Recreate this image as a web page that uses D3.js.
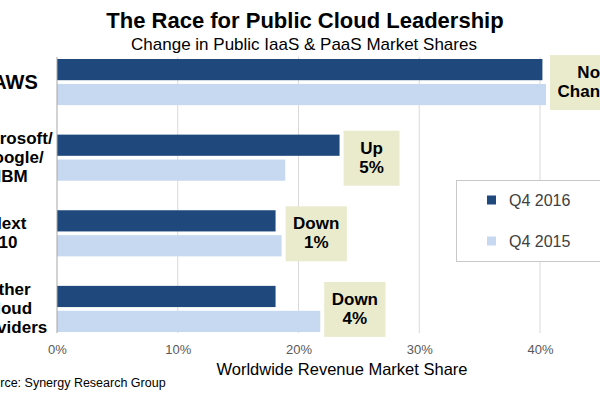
<!DOCTYPE html>
<html>
<head>
<meta charset="utf-8">
<script src="https://cdn.jsdelivr.net/npm/d3@7"></script>
<style>
  html, body { margin: 0; padding: 0; background: #fff; overflow: hidden; }
  svg { display: block; font-family: "Liberation Sans", Arial, sans-serif; }
</style>
</head>
<body>
<svg id="chart" width="600" height="400"></svg>
<script>
// ---- data ----
const categories = ["AWS", "Microsoft/Google/IBM", "Next 10", "Other Cloud Providers"];
const categoryLines = [["AWS"], ["Microsoft/", "Google/", "IBM"], ["Next", "10"], ["Other", "Cloud", "Providers"]];
const seriesNames = ["Q4 2016", "Q4 2015"];
const q42016 = [40.2, 23.4, 18.1, 18.1];
const q42015 = [40.5, 18.9, 18.6, 21.8];
const changeLabels = [["No", "Change"], ["Up", "5%"], ["Down", "1%"], ["Down", "4%"]];
const xTicks = [0, 10, 20, 30, 40];
const titleText = "The Race for Public Cloud Leadership";
const subtitleText = "Change in Public IaaS & PaaS Market Shares";
const xAxisTitle = "Worldwide Revenue Market Share";
const sourceText = "Source: Synergy Research Group";

const colors = { "Q4 2016": "#1F497D", "Q4 2015": "#C6D9F1" };
const boxFill = "#EAEBCD";

const svg = d3.select("#chart");

const x = d3.scaleLinear().domain([0, 40]).range([57, 540]);
const y = d3.scaleBand().domain(categories).range([59, 332]).paddingInner(0.39).paddingOuter(0);
const ySub = d3.scaleBand().domain(seriesNames).range([0, y.bandwidth()]).paddingInner(0.15);

const plotTop = 57, plotBottom = 333;

// gridlines
svg.append("g").selectAll("line")
  .data(xTicks.filter(d => d > 0))
  .join("line")
  .attr("x1", d => x(d)).attr("x2", d => x(d))
  .attr("y1", plotTop).attr("y2", plotBottom)
  .attr("stroke", "#d9d9d9").attr("stroke-width", 1);

// x axis tick labels (via d3 axis, no domain line)
const xAxis = d3.axisBottom(x).tickValues(xTicks).tickFormat(d => d + "%").tickSize(0).tickPadding(0);
const gx = svg.append("g").attr("transform", `translate(0,${345})`).call(xAxis);
gx.select(".domain").remove();
gx.selectAll("text")
  .attr("font-size", "13px").attr("fill", "#595959")
  .attr("font-family", "Liberation Sans, Arial, sans-serif")
  .attr("dy", "0.71em");

// bars
const rows = categories.map((c, i) => ({ cat: c, vals: [q42016[i], q42015[i]] }));
const groups = svg.append("g").selectAll("g")
  .data(rows).join("g")
  .attr("transform", d => `translate(0,${y(d.cat)})`);
groups.selectAll("rect")
  .data(d => seriesNames.map((s, j) => ({ s, v: d.vals[j] })))
  .join("rect")
  .attr("x", x(0))
  .attr("y", d => ySub(d.s))
  .attr("width", d => x(d.v) - x(0))
  .attr("height", ySub.bandwidth())
  .attr("fill", d => colors[d.s]);

// left axis line
svg.append("line")
  .attr("x1", x(0)).attr("x2", x(0))
  .attr("y1", plotTop).attr("y2", plotBottom)
  .attr("stroke", "#a6a6a6").attr("stroke-width", 1);

// category labels
const catG = svg.append("g");
categories.forEach((c, i) => {
  const lines = categoryLines[i];
  const cy = y(c) + y.bandwidth() / 2;
  const lh = 19;
  const fs = lines.length === 1 ? 20 : 17;
  const cx = lines.length === 1 ? 15 : (lines.length === 3 && i === 1 ? 12 : 8);
  lines.forEach((t, k) => {
    catG.append("text")
      .attr("x", cx)
      .attr("y", cy + (k - (lines.length - 1) / 2) * lh)
      .attr("text-anchor", "middle")
      .attr("dominant-baseline", "central")
      .attr("font-size", fs + "px")
      .attr("font-weight", "bold")
      .attr("fill", "#000")
      .text(t);
  });
});

// change annotation boxes
const annG = svg.append("g");
rows.forEach((r, i) => {
  const lines = changeLabels[i];
  const maxV = d3.max(r.vals);
  const bx = x(maxV) + 4;
  const cy = y(r.cat) + y.bandwidth() / 2;
  const g = annG.append("g");
  const texts = lines.map((t, k) => g.append("text")
    .attr("y", cy + (k - 0.5) * 19)
    .attr("text-anchor", "middle")
    .attr("dominant-baseline", "central")
    .attr("font-size", "17px")
    .attr("font-weight", "bold")
    .attr("fill", "#000")
    .text(t));
  const tw = d3.max(texts, t => t.node().getComputedTextLength());
  const bw = Math.max(56, tw + 15);
  g.insert("rect", "text")
    .attr("x", bx).attr("y", cy - 27)
    .attr("width", bw).attr("height", 55)
    .attr("fill", boxFill);
  texts.forEach(t => t.attr("x", bx + bw / 2));
});

// legend
const lg = svg.append("g");
lg.append("rect")
  .attr("x", 456.5).attr("y", 180.5).attr("width", 170).attr("height", 81)
  .attr("fill", "#fff").attr("stroke", "#c8c8c8").attr("stroke-width", 1);
seriesNames.forEach((s, k) => {
  const cy = 200 + k * 41;
  lg.append("rect").attr("x", 487).attr("y", cy - 4.5).attr("width", 9).attr("height", 9).attr("fill", colors[s]);
  lg.append("text").attr("x", 509).attr("y", cy)
    .attr("dominant-baseline", "central")
    .attr("font-size", "16px").attr("fill", "#404040").text(s);
});

// titles
svg.append("text").attr("x", 305).attr("y", 28).attr("text-anchor", "middle")
  .attr("font-size", "22px").attr("font-weight", "bold").attr("fill", "#000").text(titleText);
svg.append("text").attr("x", 304).attr("y", 50).attr("text-anchor", "middle")
  .attr("font-size", "17px").attr("fill", "#000").text(subtitleText);
svg.append("text").attr("x", 342).attr("y", 375).attr("text-anchor", "middle")
  .attr("font-size", "16.5px").attr("fill", "#000").text(xAxisTitle);
svg.append("text").attr("x", -22).attr("y", 387)
  .attr("font-size", "12.5px").attr("fill", "#000").text(sourceText);
</script>
</body>
</html>
